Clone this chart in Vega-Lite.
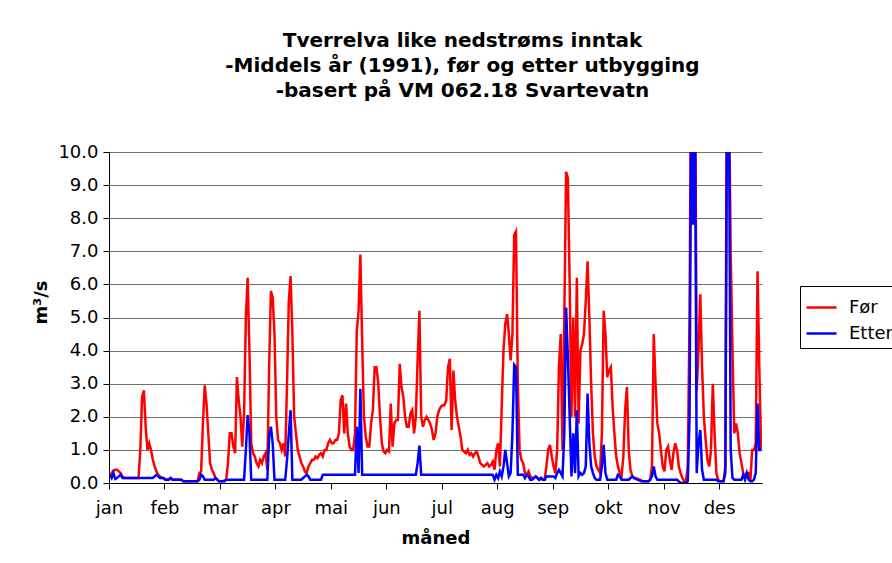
{
"$schema": "https://vega.github.io/schema/vega-lite/v6.json",
"width": 653, "height": 331,
"autosize": {"type": "none"},
"padding": {"left": 109, "top": 152, "right": 130, "bottom": 80},
"background": "white",
"config": {"font": "DejaVu Sans", "view": {"stroke": null}},
"title": {"text": ["Tverrelva like nedstrøms inntak", "-Middels år (1991), før og etter utbygging", "-basert på VM 062.18 Svartevatn"], "fontSize": 20, "fontWeight": "bold", "font": "DejaVu Sans", "lineHeight": 25, "anchor": "middle", "dx": 27, "offset": 42, "color": "black"},
"datasets": {
"rows": [
{"d":1,"s":"Før","v":0.25},{"d":2,"s":"Før","v":0.3},{"d":3,"s":"Før","v":0.38},{"d":4,"s":"Før","v":0.4},{"d":5,"s":"Før","v":0.4},{"d":6,"s":"Før","v":0.35},{"d":7,"s":"Før","v":0.3},{"d":8,"s":"Før","v":0.2},{"d":9,"s":"Før","v":0.15},{"d":10,"s":"Før","v":0.15},
{"d":11,"s":"Før","v":0.15},{"d":12,"s":"Før","v":0.15},{"d":13,"s":"Før","v":0.15},{"d":14,"s":"Før","v":0.15},{"d":15,"s":"Før","v":0.15},{"d":16,"s":"Før","v":0.15},{"d":17,"s":"Før","v":0.15},{"d":18,"s":"Før","v":1.0},{"d":19,"s":"Før","v":2.6},{"d":20,"s":"Før","v":2.8},
{"d":21,"s":"Før","v":1.7},{"d":22,"s":"Før","v":1.0},{"d":23,"s":"Før","v":1.2},{"d":24,"s":"Før","v":1.0},{"d":25,"s":"Før","v":0.7},{"d":26,"s":"Før","v":0.5},{"d":27,"s":"Før","v":0.35},{"d":28,"s":"Før","v":0.25},{"d":29,"s":"Før","v":0.2},{"d":30,"s":"Før","v":0.15},
{"d":31,"s":"Før","v":0.15},{"d":32,"s":"Før","v":0.1},{"d":33,"s":"Før","v":0.1},{"d":34,"s":"Før","v":0.12},{"d":35,"s":"Før","v":0.15},{"d":36,"s":"Før","v":0.1},{"d":37,"s":"Før","v":0.1},{"d":38,"s":"Før","v":0.1},{"d":39,"s":"Før","v":0.1},{"d":40,"s":"Før","v":0.1},
{"d":41,"s":"Før","v":0.1},{"d":42,"s":"Før","v":0.05},{"d":43,"s":"Før","v":0.05},{"d":44,"s":"Før","v":0.05},{"d":45,"s":"Før","v":0.05},{"d":46,"s":"Før","v":0.05},{"d":47,"s":"Før","v":0.05},{"d":48,"s":"Før","v":0.05},{"d":49,"s":"Før","v":0.05},{"d":50,"s":"Før","v":0.05},
{"d":51,"s":"Før","v":0.3},{"d":52,"s":"Før","v":0.35},{"d":53,"s":"Før","v":1.8},{"d":54,"s":"Før","v":2.95},{"d":55,"s":"Før","v":2.4},{"d":56,"s":"Før","v":1.5},{"d":57,"s":"Før","v":0.6},{"d":58,"s":"Før","v":0.4},{"d":59,"s":"Før","v":0.3},{"d":60,"s":"Før","v":0.15},
{"d":61,"s":"Før","v":0.1},{"d":62,"s":"Før","v":0.05},{"d":63,"s":"Før","v":0.05},{"d":64,"s":"Før","v":0.05},{"d":65,"s":"Før","v":0.08},{"d":66,"s":"Før","v":0.1},{"d":67,"s":"Før","v":0.6},{"d":68,"s":"Før","v":1.5},{"d":69,"s":"Før","v":1.5},{"d":70,"s":"Før","v":1.1},
{"d":71,"s":"Før","v":0.9},{"d":72,"s":"Før","v":3.2},{"d":73,"s":"Før","v":2.5},{"d":74,"s":"Før","v":2.0},{"d":75,"s":"Før","v":1.1},{"d":76,"s":"Før","v":2.1},{"d":77,"s":"Før","v":5.0},{"d":78,"s":"Før","v":6.2},{"d":79,"s":"Før","v":4.0},{"d":80,"s":"Før","v":1.2},
{"d":81,"s":"Før","v":0.9},{"d":82,"s":"Før","v":0.8},{"d":83,"s":"Før","v":0.6},{"d":84,"s":"Før","v":0.5},{"d":85,"s":"Før","v":0.7},{"d":86,"s":"Før","v":0.6},{"d":87,"s":"Før","v":0.8},{"d":88,"s":"Før","v":0.9},{"d":89,"s":"Før","v":0.4},{"d":90,"s":"Før","v":3.5},
{"d":91,"s":"Før","v":5.8},{"d":92,"s":"Før","v":5.6},{"d":93,"s":"Før","v":4.5},{"d":94,"s":"Før","v":2.0},{"d":95,"s":"Før","v":1.3},{"d":96,"s":"Før","v":1.2},{"d":97,"s":"Før","v":1.0},{"d":98,"s":"Før","v":1.2},{"d":99,"s":"Før","v":0.8},{"d":100,"s":"Før","v":3.0},
{"d":101,"s":"Før","v":5.5},{"d":102,"s":"Før","v":6.25},{"d":103,"s":"Før","v":4.5},{"d":104,"s":"Før","v":2.0},{"d":105,"s":"Før","v":1.5},{"d":106,"s":"Før","v":1.0},{"d":107,"s":"Før","v":0.8},{"d":108,"s":"Før","v":0.6},{"d":109,"s":"Før","v":0.5},{"d":110,"s":"Før","v":0.35},
{"d":111,"s":"Før","v":0.3},{"d":112,"s":"Før","v":0.5},{"d":113,"s":"Før","v":0.6},{"d":114,"s":"Før","v":0.7},{"d":115,"s":"Før","v":0.7},{"d":116,"s":"Før","v":0.8},{"d":117,"s":"Før","v":0.75},{"d":118,"s":"Før","v":0.85},{"d":119,"s":"Før","v":0.9},{"d":120,"s":"Før","v":0.8},
{"d":121,"s":"Før","v":1.0},{"d":122,"s":"Før","v":1.0},{"d":123,"s":"Før","v":1.2},{"d":124,"s":"Før","v":1.3},{"d":125,"s":"Før","v":1.2},{"d":126,"s":"Før","v":1.2},{"d":127,"s":"Før","v":1.3},{"d":128,"s":"Før","v":1.3},{"d":129,"s":"Før","v":1.5},{"d":130,"s":"Før","v":2.5},
{"d":131,"s":"Før","v":2.65},{"d":132,"s":"Før","v":1.5},{"d":133,"s":"Før","v":2.4},{"d":134,"s":"Før","v":1.5},{"d":135,"s":"Før","v":1.1},{"d":136,"s":"Før","v":1.0},{"d":137,"s":"Før","v":1.0},{"d":138,"s":"Før","v":1.5},{"d":139,"s":"Før","v":4.6},{"d":140,"s":"Før","v":5.2},
{"d":141,"s":"Før","v":6.9},{"d":142,"s":"Før","v":4.3},{"d":143,"s":"Før","v":2.0},{"d":144,"s":"Før","v":1.4},{"d":145,"s":"Før","v":1.1},{"d":146,"s":"Før","v":1.1},{"d":147,"s":"Før","v":1.8},{"d":148,"s":"Før","v":2.2},{"d":149,"s":"Før","v":3.5},{"d":150,"s":"Før","v":3.5},
{"d":151,"s":"Før","v":3.0},{"d":152,"s":"Før","v":2.0},{"d":153,"s":"Før","v":1.2},{"d":154,"s":"Før","v":0.95},{"d":155,"s":"Før","v":0.9},{"d":156,"s":"Før","v":1.0},{"d":157,"s":"Før","v":0.95},{"d":158,"s":"Før","v":2.4},{"d":159,"s":"Før","v":1.1},{"d":160,"s":"Før","v":1.8},
{"d":161,"s":"Før","v":1.9},{"d":162,"s":"Før","v":1.9},{"d":163,"s":"Før","v":3.6},{"d":164,"s":"Før","v":2.9},{"d":165,"s":"Før","v":2.6},{"d":166,"s":"Før","v":2.0},{"d":167,"s":"Før","v":1.7},{"d":168,"s":"Før","v":1.7},{"d":169,"s":"Før","v":2.1},{"d":170,"s":"Før","v":2.2},
{"d":171,"s":"Før","v":1.5},{"d":172,"s":"Før","v":2.0},{"d":173,"s":"Før","v":3.7},{"d":174,"s":"Før","v":5.2},{"d":175,"s":"Før","v":2.0},{"d":176,"s":"Før","v":1.7},{"d":177,"s":"Før","v":1.9},{"d":178,"s":"Før","v":2.0},{"d":179,"s":"Før","v":1.9},{"d":180,"s":"Før","v":1.8},
{"d":181,"s":"Før","v":1.6},{"d":182,"s":"Før","v":1.3},{"d":183,"s":"Før","v":1.5},{"d":184,"s":"Før","v":2.0},{"d":185,"s":"Før","v":2.2},{"d":186,"s":"Før","v":2.3},{"d":187,"s":"Før","v":2.35},{"d":188,"s":"Før","v":2.35},{"d":189,"s":"Før","v":2.5},{"d":190,"s":"Før","v":3.5},
{"d":191,"s":"Før","v":3.75},{"d":192,"s":"Før","v":1.6},{"d":193,"s":"Før","v":3.4},{"d":194,"s":"Før","v":2.5},{"d":195,"s":"Før","v":2.0},{"d":196,"s":"Før","v":1.7},{"d":197,"s":"Før","v":1.4},{"d":198,"s":"Før","v":1.0},{"d":199,"s":"Før","v":0.95},{"d":200,"s":"Før","v":0.9},
{"d":201,"s":"Før","v":1.0},{"d":202,"s":"Før","v":0.85},{"d":203,"s":"Før","v":0.9},{"d":204,"s":"Før","v":0.8},{"d":205,"s":"Før","v":0.9},{"d":206,"s":"Før","v":0.95},{"d":207,"s":"Før","v":0.8},{"d":208,"s":"Før","v":0.6},{"d":209,"s":"Før","v":0.55},{"d":210,"s":"Før","v":0.5},
{"d":211,"s":"Før","v":0.55},{"d":212,"s":"Før","v":0.6},{"d":213,"s":"Før","v":0.5},{"d":214,"s":"Før","v":0.55},{"d":215,"s":"Før","v":0.65},{"d":216,"s":"Før","v":0.4},{"d":217,"s":"Før","v":1.0},{"d":218,"s":"Før","v":1.2},{"d":219,"s":"Før","v":0.5},{"d":220,"s":"Før","v":2.3},
{"d":221,"s":"Før","v":4.0},{"d":222,"s":"Før","v":4.8},{"d":223,"s":"Før","v":5.1},{"d":224,"s":"Før","v":4.5},{"d":225,"s":"Før","v":3.7},{"d":226,"s":"Før","v":4.5},{"d":227,"s":"Før","v":7.5},{"d":228,"s":"Før","v":7.6},{"d":229,"s":"Før","v":3.0},{"d":230,"s":"Før","v":1.0},
{"d":231,"s":"Før","v":0.7},{"d":232,"s":"Før","v":0.6},{"d":233,"s":"Før","v":0.3},{"d":234,"s":"Før","v":0.25},{"d":235,"s":"Før","v":0.35},{"d":236,"s":"Før","v":0.2},{"d":237,"s":"Før","v":0.15},{"d":238,"s":"Før","v":0.15},{"d":239,"s":"Før","v":0.2},{"d":240,"s":"Før","v":0.15},
{"d":241,"s":"Før","v":0.1},{"d":242,"s":"Før","v":0.15},{"d":243,"s":"Før","v":0.1},{"d":244,"s":"Før","v":0.1},{"d":245,"s":"Før","v":0.5},{"d":246,"s":"Før","v":1.0},{"d":247,"s":"Før","v":1.15},{"d":248,"s":"Før","v":0.8},{"d":249,"s":"Før","v":0.5},{"d":250,"s":"Før","v":0.3},
{"d":251,"s":"Før","v":1.0},{"d":252,"s":"Før","v":3.5},{"d":253,"s":"Før","v":4.5},{"d":254,"s":"Før","v":1.0},{"d":255,"s":"Før","v":5.0},{"d":256,"s":"Før","v":9.4},{"d":257,"s":"Før","v":9.2},{"d":258,"s":"Før","v":6.0},{"d":259,"s":"Før","v":2.0},{"d":260,"s":"Før","v":5.0},
{"d":261,"s":"Før","v":2.0},{"d":262,"s":"Før","v":6.2},{"d":263,"s":"Før","v":1.8},{"d":264,"s":"Før","v":4.0},{"d":265,"s":"Før","v":4.2},{"d":266,"s":"Før","v":4.5},{"d":267,"s":"Før","v":5.5},{"d":268,"s":"Før","v":6.7},{"d":269,"s":"Før","v":5.0},{"d":270,"s":"Før","v":3.0},
{"d":271,"s":"Før","v":1.5},{"d":272,"s":"Før","v":0.8},{"d":273,"s":"Før","v":0.5},{"d":274,"s":"Før","v":0.4},{"d":275,"s":"Før","v":0.3},{"d":276,"s":"Før","v":1.5},{"d":277,"s":"Før","v":5.2},{"d":278,"s":"Før","v":4.5},{"d":279,"s":"Før","v":3.2},{"d":280,"s":"Før","v":3.4},
{"d":281,"s":"Før","v":3.5},{"d":282,"s":"Før","v":2.3},{"d":283,"s":"Før","v":1.5},{"d":284,"s":"Før","v":0.8},{"d":285,"s":"Før","v":0.5},{"d":286,"s":"Før","v":0.3},{"d":287,"s":"Før","v":0.2},{"d":288,"s":"Før","v":0.8},{"d":289,"s":"Før","v":2.2},{"d":290,"s":"Før","v":2.9},
{"d":291,"s":"Før","v":1.0},{"d":292,"s":"Før","v":0.4},{"d":293,"s":"Før","v":0.2},{"d":294,"s":"Før","v":0.15},{"d":295,"s":"Før","v":0.15},{"d":296,"s":"Før","v":0.12},{"d":297,"s":"Før","v":0.1},{"d":298,"s":"Før","v":0.08},{"d":299,"s":"Før","v":0.05},{"d":300,"s":"Før","v":0.05},
{"d":301,"s":"Før","v":0.05},{"d":302,"s":"Før","v":0.05},{"d":303,"s":"Før","v":0.1},{"d":304,"s":"Før","v":0.5},{"d":305,"s":"Før","v":4.5},{"d":306,"s":"Før","v":3.0},{"d":307,"s":"Før","v":1.8},{"d":308,"s":"Før","v":1.5},{"d":309,"s":"Før","v":1.0},{"d":310,"s":"Før","v":0.5},
{"d":311,"s":"Før","v":0.35},{"d":312,"s":"Før","v":1.0},{"d":313,"s":"Før","v":1.1},{"d":314,"s":"Før","v":0.7},{"d":315,"s":"Før","v":0.4},{"d":316,"s":"Før","v":0.9},{"d":317,"s":"Før","v":1.2},{"d":318,"s":"Før","v":1.0},{"d":319,"s":"Før","v":0.5},{"d":320,"s":"Før","v":0.3},
{"d":321,"s":"Før","v":0.15},{"d":322,"s":"Før","v":0.05},{"d":323,"s":"Før","v":0.05},{"d":324,"s":"Før","v":0.5},{"d":325,"s":"Før","v":5.0},{"d":326,"s":"Før","v":14},{"d":327,"s":"Før","v":13},{"d":328,"s":"Før","v":14},{"d":329,"s":"Før","v":2.8},{"d":330,"s":"Før","v":4.0},
{"d":331,"s":"Før","v":5.7},{"d":332,"s":"Før","v":3.5},{"d":333,"s":"Før","v":2.0},{"d":334,"s":"Før","v":1.3},{"d":335,"s":"Før","v":0.7},{"d":336,"s":"Før","v":0.5},{"d":337,"s":"Før","v":1.0},{"d":338,"s":"Før","v":3.0},{"d":339,"s":"Før","v":1.5},{"d":340,"s":"Før","v":0.3},
{"d":341,"s":"Før","v":0.1},{"d":342,"s":"Før","v":0.05},{"d":343,"s":"Før","v":0.05},{"d":344,"s":"Før","v":0.05},{"d":345,"s":"Før","v":0.5},{"d":346,"s":"Før","v":15},{"d":347,"s":"Før","v":12},{"d":348,"s":"Før","v":7.0},{"d":349,"s":"Før","v":4.0},{"d":350,"s":"Før","v":1.5},
{"d":351,"s":"Før","v":1.8},{"d":352,"s":"Før","v":1.5},{"d":353,"s":"Før","v":0.9},{"d":354,"s":"Før","v":0.6},{"d":355,"s":"Før","v":0.3},{"d":356,"s":"Før","v":0.2},{"d":357,"s":"Før","v":0.3},{"d":358,"s":"Før","v":0.3},{"d":359,"s":"Før","v":0.05},{"d":360,"s":"Før","v":1.0},
{"d":361,"s":"Før","v":1.0},{"d":362,"s":"Før","v":1.2},{"d":363,"s":"Før","v":6.4},{"d":364,"s":"Før","v":3.5},{"d":365,"s":"Før","v":1.0},
{"d":1,"s":"Etter","v":0.25},{"d":2,"s":"Etter","v":0.15},{"d":3,"s":"Etter","v":0.3},{"d":4,"s":"Etter","v":0.12},{"d":5,"s":"Etter","v":0.15},{"d":6,"s":"Etter","v":0.2},{"d":7,"s":"Etter","v":0.25},{"d":8,"s":"Etter","v":0.15},{"d":9,"s":"Etter","v":0.15},{"d":10,"s":"Etter","v":0.15},
{"d":11,"s":"Etter","v":0.15},{"d":12,"s":"Etter","v":0.15},{"d":13,"s":"Etter","v":0.15},{"d":14,"s":"Etter","v":0.15},{"d":15,"s":"Etter","v":0.15},{"d":16,"s":"Etter","v":0.15},{"d":17,"s":"Etter","v":0.15},{"d":18,"s":"Etter","v":0.15},{"d":19,"s":"Etter","v":0.15},{"d":20,"s":"Etter","v":0.15},
{"d":21,"s":"Etter","v":0.15},{"d":22,"s":"Etter","v":0.15},{"d":23,"s":"Etter","v":0.15},{"d":24,"s":"Etter","v":0.15},{"d":25,"s":"Etter","v":0.15},{"d":26,"s":"Etter","v":0.2},{"d":27,"s":"Etter","v":0.25},{"d":28,"s":"Etter","v":0.2},{"d":29,"s":"Etter","v":0.15},{"d":30,"s":"Etter","v":0.15},
{"d":31,"s":"Etter","v":0.15},{"d":32,"s":"Etter","v":0.1},{"d":33,"s":"Etter","v":0.1},{"d":34,"s":"Etter","v":0.1},{"d":35,"s":"Etter","v":0.15},{"d":36,"s":"Etter","v":0.1},{"d":37,"s":"Etter","v":0.1},{"d":38,"s":"Etter","v":0.1},{"d":39,"s":"Etter","v":0.1},{"d":40,"s":"Etter","v":0.1},
{"d":41,"s":"Etter","v":0.1},{"d":42,"s":"Etter","v":0.05},{"d":43,"s":"Etter","v":0.05},{"d":44,"s":"Etter","v":0.05},{"d":45,"s":"Etter","v":0.05},{"d":46,"s":"Etter","v":0.05},{"d":47,"s":"Etter","v":0.05},{"d":48,"s":"Etter","v":0.05},{"d":49,"s":"Etter","v":0.05},{"d":50,"s":"Etter","v":0.05},
{"d":51,"s":"Etter","v":0.1},{"d":52,"s":"Etter","v":0.25},{"d":53,"s":"Etter","v":0.2},{"d":54,"s":"Etter","v":0.1},{"d":55,"s":"Etter","v":0.1},{"d":56,"s":"Etter","v":0.1},{"d":57,"s":"Etter","v":0.1},{"d":58,"s":"Etter","v":0.1},{"d":59,"s":"Etter","v":0.1},{"d":60,"s":"Etter","v":0.15},
{"d":61,"s":"Etter","v":0.1},{"d":62,"s":"Etter","v":0.05},{"d":63,"s":"Etter","v":0.05},{"d":64,"s":"Etter","v":0.05},{"d":65,"s":"Etter","v":0.05},{"d":66,"s":"Etter","v":0.1},{"d":67,"s":"Etter","v":0.1},{"d":68,"s":"Etter","v":0.1},{"d":69,"s":"Etter","v":0.1},{"d":70,"s":"Etter","v":0.1},
{"d":71,"s":"Etter","v":0.1},{"d":72,"s":"Etter","v":0.1},{"d":73,"s":"Etter","v":0.1},{"d":74,"s":"Etter","v":0.1},{"d":75,"s":"Etter","v":0.1},{"d":76,"s":"Etter","v":0.1},{"d":77,"s":"Etter","v":1.0},{"d":78,"s":"Etter","v":2.05},{"d":79,"s":"Etter","v":1.5},{"d":80,"s":"Etter","v":0.1},
{"d":81,"s":"Etter","v":0.1},{"d":82,"s":"Etter","v":0.1},{"d":83,"s":"Etter","v":0.1},{"d":84,"s":"Etter","v":0.1},{"d":85,"s":"Etter","v":0.1},{"d":86,"s":"Etter","v":0.1},{"d":87,"s":"Etter","v":0.1},{"d":88,"s":"Etter","v":0.1},{"d":89,"s":"Etter","v":0.1},{"d":90,"s":"Etter","v":1.4},
{"d":91,"s":"Etter","v":1.7},{"d":92,"s":"Etter","v":1.2},{"d":93,"s":"Etter","v":0.1},{"d":94,"s":"Etter","v":0.1},{"d":95,"s":"Etter","v":0.1},{"d":96,"s":"Etter","v":0.1},{"d":97,"s":"Etter","v":0.1},{"d":98,"s":"Etter","v":0.1},{"d":99,"s":"Etter","v":0.1},{"d":100,"s":"Etter","v":0.7},
{"d":101,"s":"Etter","v":1.5},{"d":102,"s":"Etter","v":2.2},{"d":103,"s":"Etter","v":0.1},{"d":104,"s":"Etter","v":0.1},{"d":105,"s":"Etter","v":0.1},{"d":106,"s":"Etter","v":0.1},{"d":107,"s":"Etter","v":0.1},{"d":108,"s":"Etter","v":0.1},{"d":109,"s":"Etter","v":0.15},{"d":110,"s":"Etter","v":0.2},
{"d":111,"s":"Etter","v":0.25},{"d":112,"s":"Etter","v":0.2},{"d":113,"s":"Etter","v":0.1},{"d":114,"s":"Etter","v":0.1},{"d":115,"s":"Etter","v":0.1},{"d":116,"s":"Etter","v":0.1},{"d":117,"s":"Etter","v":0.1},{"d":118,"s":"Etter","v":0.1},{"d":119,"s":"Etter","v":0.1},{"d":120,"s":"Etter","v":0.25},
{"d":121,"s":"Etter","v":0.25},{"d":122,"s":"Etter","v":0.25},{"d":123,"s":"Etter","v":0.25},{"d":124,"s":"Etter","v":0.25},{"d":125,"s":"Etter","v":0.25},{"d":126,"s":"Etter","v":0.25},{"d":127,"s":"Etter","v":0.25},{"d":128,"s":"Etter","v":0.25},{"d":129,"s":"Etter","v":0.25},{"d":130,"s":"Etter","v":0.25},
{"d":131,"s":"Etter","v":0.25},{"d":132,"s":"Etter","v":0.25},{"d":133,"s":"Etter","v":0.25},{"d":134,"s":"Etter","v":0.25},{"d":135,"s":"Etter","v":0.25},{"d":136,"s":"Etter","v":0.25},{"d":137,"s":"Etter","v":0.25},{"d":138,"s":"Etter","v":0.25},{"d":139,"s":"Etter","v":1.7},{"d":140,"s":"Etter","v":0.3},
{"d":141,"s":"Etter","v":2.85},{"d":142,"s":"Etter","v":0.25},{"d":143,"s":"Etter","v":0.25},{"d":144,"s":"Etter","v":0.25},{"d":145,"s":"Etter","v":0.25},{"d":146,"s":"Etter","v":0.25},{"d":147,"s":"Etter","v":0.25},{"d":148,"s":"Etter","v":0.25},{"d":149,"s":"Etter","v":0.25},{"d":150,"s":"Etter","v":0.25},
{"d":151,"s":"Etter","v":0.25},{"d":152,"s":"Etter","v":0.25},{"d":153,"s":"Etter","v":0.25},{"d":154,"s":"Etter","v":0.25},{"d":155,"s":"Etter","v":0.25},{"d":156,"s":"Etter","v":0.25},{"d":157,"s":"Etter","v":0.25},{"d":158,"s":"Etter","v":0.25},{"d":159,"s":"Etter","v":0.25},{"d":160,"s":"Etter","v":0.25},
{"d":161,"s":"Etter","v":0.25},{"d":162,"s":"Etter","v":0.25},{"d":163,"s":"Etter","v":0.25},{"d":164,"s":"Etter","v":0.25},{"d":165,"s":"Etter","v":0.25},{"d":166,"s":"Etter","v":0.25},{"d":167,"s":"Etter","v":0.25},{"d":168,"s":"Etter","v":0.25},{"d":169,"s":"Etter","v":0.25},{"d":170,"s":"Etter","v":0.25},
{"d":171,"s":"Etter","v":0.25},{"d":172,"s":"Etter","v":0.25},{"d":173,"s":"Etter","v":0.6},{"d":174,"s":"Etter","v":1.13},{"d":175,"s":"Etter","v":0.25},{"d":176,"s":"Etter","v":0.25},{"d":177,"s":"Etter","v":0.25},{"d":178,"s":"Etter","v":0.25},{"d":179,"s":"Etter","v":0.25},{"d":180,"s":"Etter","v":0.25},
{"d":181,"s":"Etter","v":0.25},{"d":182,"s":"Etter","v":0.25},{"d":183,"s":"Etter","v":0.25},{"d":184,"s":"Etter","v":0.25},{"d":185,"s":"Etter","v":0.25},{"d":186,"s":"Etter","v":0.25},{"d":187,"s":"Etter","v":0.25},{"d":188,"s":"Etter","v":0.25},{"d":189,"s":"Etter","v":0.25},{"d":190,"s":"Etter","v":0.25},
{"d":191,"s":"Etter","v":0.25},{"d":192,"s":"Etter","v":0.25},{"d":193,"s":"Etter","v":0.25},{"d":194,"s":"Etter","v":0.25},{"d":195,"s":"Etter","v":0.25},{"d":196,"s":"Etter","v":0.25},{"d":197,"s":"Etter","v":0.25},{"d":198,"s":"Etter","v":0.25},{"d":199,"s":"Etter","v":0.25},{"d":200,"s":"Etter","v":0.25},
{"d":201,"s":"Etter","v":0.25},{"d":202,"s":"Etter","v":0.25},{"d":203,"s":"Etter","v":0.25},{"d":204,"s":"Etter","v":0.25},{"d":205,"s":"Etter","v":0.25},{"d":206,"s":"Etter","v":0.25},{"d":207,"s":"Etter","v":0.25},{"d":208,"s":"Etter","v":0.25},{"d":209,"s":"Etter","v":0.25},{"d":210,"s":"Etter","v":0.25},
{"d":211,"s":"Etter","v":0.25},{"d":212,"s":"Etter","v":0.25},{"d":213,"s":"Etter","v":0.25},{"d":214,"s":"Etter","v":0.25},{"d":215,"s":"Etter","v":0.25},{"d":216,"s":"Etter","v":0.1},{"d":217,"s":"Etter","v":0.25},{"d":218,"s":"Etter","v":0.15},{"d":219,"s":"Etter","v":0.35},{"d":220,"s":"Etter","v":0.2},
{"d":221,"s":"Etter","v":0.5},{"d":222,"s":"Etter","v":1.0},{"d":223,"s":"Etter","v":0.6},{"d":224,"s":"Etter","v":0.2},{"d":225,"s":"Etter","v":0.3},{"d":226,"s":"Etter","v":1.5},{"d":227,"s":"Etter","v":3.57},{"d":228,"s":"Etter","v":3.5},{"d":229,"s":"Etter","v":0.25},{"d":230,"s":"Etter","v":0.25},
{"d":231,"s":"Etter","v":0.25},{"d":232,"s":"Etter","v":0.25},{"d":233,"s":"Etter","v":0.15},{"d":234,"s":"Etter","v":0.25},{"d":235,"s":"Etter","v":0.2},{"d":236,"s":"Etter","v":0.1},{"d":237,"s":"Etter","v":0.1},{"d":238,"s":"Etter","v":0.15},{"d":239,"s":"Etter","v":0.2},{"d":240,"s":"Etter","v":0.15},
{"d":241,"s":"Etter","v":0.1},{"d":242,"s":"Etter","v":0.15},{"d":243,"s":"Etter","v":0.1},{"d":244,"s":"Etter","v":0.1},{"d":245,"s":"Etter","v":0.2},{"d":246,"s":"Etter","v":0.2},{"d":247,"s":"Etter","v":0.2},{"d":248,"s":"Etter","v":0.2},{"d":249,"s":"Etter","v":0.2},{"d":250,"s":"Etter","v":0.15},
{"d":251,"s":"Etter","v":0.3},{"d":252,"s":"Etter","v":0.4},{"d":253,"s":"Etter","v":0.3},{"d":254,"s":"Etter","v":0.2},{"d":255,"s":"Etter","v":1.5},{"d":256,"s":"Etter","v":5.3},{"d":257,"s":"Etter","v":3.8},{"d":258,"s":"Etter","v":2.0},{"d":259,"s":"Etter","v":0.2},{"d":260,"s":"Etter","v":1.5},
{"d":261,"s":"Etter","v":0.3},{"d":262,"s":"Etter","v":2.2},{"d":263,"s":"Etter","v":0.2},{"d":264,"s":"Etter","v":0.3},{"d":265,"s":"Etter","v":0.25},{"d":266,"s":"Etter","v":0.3},{"d":267,"s":"Etter","v":0.5},{"d":268,"s":"Etter","v":2.7},{"d":269,"s":"Etter","v":1.2},{"d":270,"s":"Etter","v":0.5},
{"d":271,"s":"Etter","v":0.3},{"d":272,"s":"Etter","v":0.15},{"d":273,"s":"Etter","v":0.1},{"d":274,"s":"Etter","v":0.1},{"d":275,"s":"Etter","v":0.1},{"d":276,"s":"Etter","v":0.5},{"d":277,"s":"Etter","v":1.15},{"d":278,"s":"Etter","v":0.3},{"d":279,"s":"Etter","v":0.1},{"d":280,"s":"Etter","v":0.1},
{"d":281,"s":"Etter","v":0.1},{"d":282,"s":"Etter","v":0.1},{"d":283,"s":"Etter","v":0.1},{"d":284,"s":"Etter","v":0.1},{"d":285,"s":"Etter","v":0.25},{"d":286,"s":"Etter","v":0.2},{"d":287,"s":"Etter","v":0.1},{"d":288,"s":"Etter","v":0.1},{"d":289,"s":"Etter","v":0.1},{"d":290,"s":"Etter","v":0.1},
{"d":291,"s":"Etter","v":0.1},{"d":292,"s":"Etter","v":0.15},{"d":293,"s":"Etter","v":0.2},{"d":294,"s":"Etter","v":0.15},{"d":295,"s":"Etter","v":0.12},{"d":296,"s":"Etter","v":0.1},{"d":297,"s":"Etter","v":0.08},{"d":298,"s":"Etter","v":0.05},{"d":299,"s":"Etter","v":0.05},{"d":300,"s":"Etter","v":0.05},
{"d":301,"s":"Etter","v":0.05},{"d":302,"s":"Etter","v":0.05},{"d":303,"s":"Etter","v":0.1},{"d":304,"s":"Etter","v":0.2},{"d":305,"s":"Etter","v":0.5},{"d":306,"s":"Etter","v":0.2},{"d":307,"s":"Etter","v":0.1},{"d":308,"s":"Etter","v":0.1},{"d":309,"s":"Etter","v":0.1},{"d":310,"s":"Etter","v":0.1},
{"d":311,"s":"Etter","v":0.1},{"d":312,"s":"Etter","v":0.1},{"d":313,"s":"Etter","v":0.1},{"d":314,"s":"Etter","v":0.1},{"d":315,"s":"Etter","v":0.1},{"d":316,"s":"Etter","v":0.1},{"d":317,"s":"Etter","v":0.1},{"d":318,"s":"Etter","v":0.1},{"d":319,"s":"Etter","v":0.05},{"d":320,"s":"Etter","v":0.0},
{"d":321,"s":"Etter","v":0.0},{"d":322,"s":"Etter","v":0.0},{"d":323,"s":"Etter","v":0.0},{"d":324,"s":"Etter","v":0.05},{"d":325,"s":"Etter","v":2.0},{"d":326,"s":"Etter","v":12},{"d":327,"s":"Etter","v":7.8},{"d":328,"s":"Etter","v":12},{"d":329,"s":"Etter","v":0.3},{"d":330,"s":"Etter","v":1.2},
{"d":331,"s":"Etter","v":1.6},{"d":332,"s":"Etter","v":0.4},{"d":333,"s":"Etter","v":0.1},{"d":334,"s":"Etter","v":0.1},{"d":335,"s":"Etter","v":0.1},{"d":336,"s":"Etter","v":0.1},{"d":337,"s":"Etter","v":0.1},{"d":338,"s":"Etter","v":0.1},{"d":339,"s":"Etter","v":0.1},{"d":340,"s":"Etter","v":0.1},
{"d":341,"s":"Etter","v":0.05},{"d":342,"s":"Etter","v":0.05},{"d":343,"s":"Etter","v":0.05},{"d":344,"s":"Etter","v":0.05},{"d":345,"s":"Etter","v":0.3},{"d":346,"s":"Etter","v":12},{"d":347,"s":"Etter","v":12},{"d":348,"s":"Etter","v":1.0},{"d":349,"s":"Etter","v":0.15},{"d":350,"s":"Etter","v":0.1},
{"d":351,"s":"Etter","v":0.1},{"d":352,"s":"Etter","v":0.1},{"d":353,"s":"Etter","v":0.1},{"d":354,"s":"Etter","v":0.1},{"d":355,"s":"Etter","v":0.25},{"d":356,"s":"Etter","v":0.1},{"d":357,"s":"Etter","v":0.3},{"d":358,"s":"Etter","v":0.1},{"d":359,"s":"Etter","v":0.05},{"d":360,"s":"Etter","v":0.05},
{"d":361,"s":"Etter","v":0.1},{"d":362,"s":"Etter","v":0.3},{"d":363,"s":"Etter","v":2.4},{"d":364,"s":"Etter","v":1.0},{"d":365,"s":"Etter","v":1.0}
]
},
"data": {"name": "rows"},
"mark": {"type": "line", "strokeWidth": 2.5, "clip": true},
"encoding": {
  "x": {"field": "d", "type": "quantitative",
        "scale": {"domain": [0.5, 365.5], "nice": false, "zero": false},
        "axis": {"values": [0.5, 31.5, 62.5, 93.5, 124.5, 155.5, 186.5, 217.5, 248.5, 279.5, 310.5, 341.5],
                 "labelExpr": "['jan','feb','mar','apr','mai','jun','jul','aug','sep','okt','nov','des'][floor(datum.value/31)]",
                 "title": "måned", "grid": false, "domainColor": "black", "tickColor": "black", "tickSize": 6,
                 "labelFontSize": 18, "labelColor": "black", "labelFlush": false, "labelBound": false, "labelOverlap": false, "labelPadding": 10,
                 "titleFontSize": 18, "titleFontWeight": "bold", "titleColor": "black", "titlePadding": 12}},
  "y": {"field": "v", "type": "quantitative",
        "scale": {"domain": [0, 10], "nice": false},
        "axis": {"values": [0, 1, 2, 3, 4, 5, 6, 7, 8, 9, 10], "format": ".1f", "title": "m³/s",
                 "grid": true, "gridColor": "#707070", "domainColor": "black", "tickColor": "black", "tickSize": 6,
                 "labelFontSize": 18, "labelColor": "black", "labelFlush": false, "labelPadding": 5,
                 "titleFontSize": 18, "titleFontWeight": "bold", "titleColor": "black", "titlePadding": 7, "titleY": 150}},
  "color": {"field": "s", "type": "nominal",
            "scale": {"domain": ["Før", "Etter"], "range": ["#ff0000", "#0000ff"]},
            "legend": {"title": null, "orient": "none", "legendX": 691, "legendY": 134, "fillColor": "white", "strokeColor": "black",
                       "padding": 5, "symbolType": "stroke", "symbolSize": 900, "symbolStrokeWidth": 2.5,
                       "labelFontSize": 18, "labelColor": "black", "labelOffset": 11, "rowPadding": -9}}
}
}
